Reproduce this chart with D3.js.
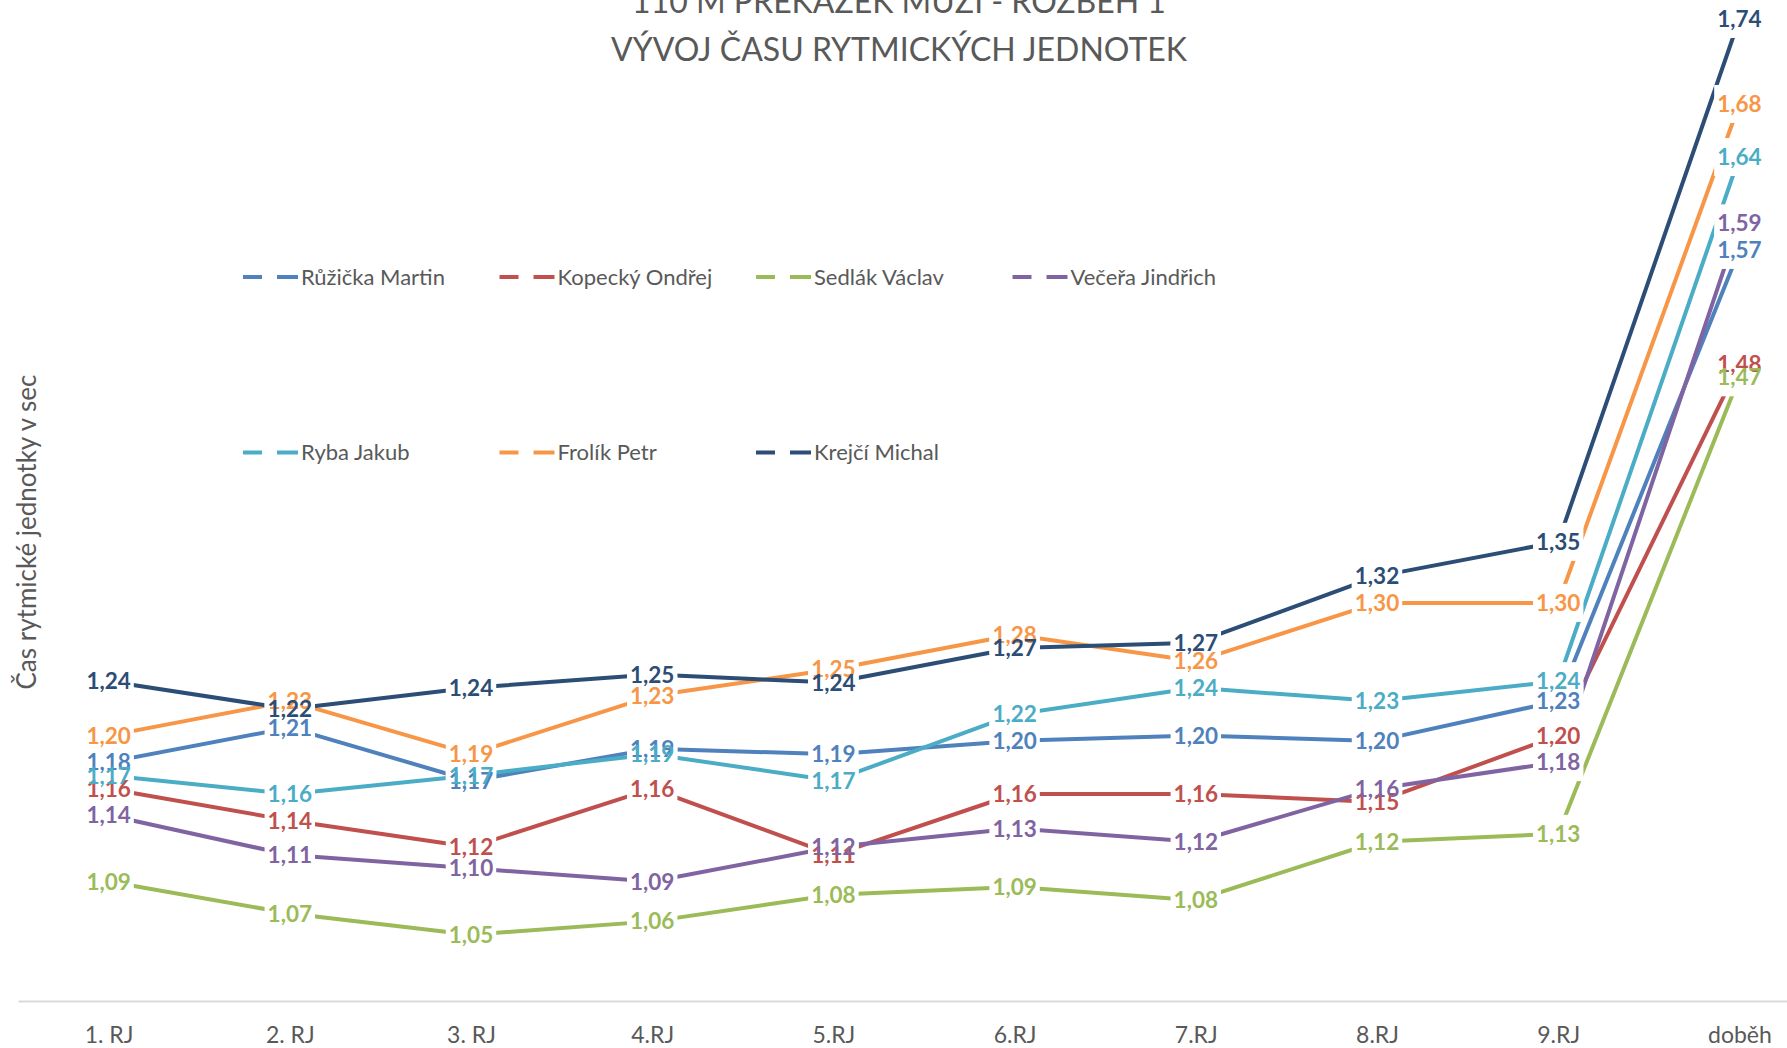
<!DOCTYPE html>
<html>
<head>
<meta charset="utf-8">
<script src="https://cdnjs.cloudflare.com/ajax/libs/d3/7.8.5/d3.min.js"></script>
<style>
    body { margin: 0; background: #fff; }
    text { font-family: Lato, 'Open Sans', sans-serif; }
</style>
</head>
<body>
<div id="chart-holder"></div>
<script>
// categories (x axis)
var categories = ['1. RJ', '2. RJ', '3. RJ', '4.RJ', '5.RJ', '6.RJ', '7.RJ', '8.RJ', '9.RJ', 'doběh'];

// series names
var seriesNames = ['Růžička Martin', 'Kopecký Ondřej', 'Sedlák Václav', 'Večeřa Jindřich', 'Ryba Jakub', 'Frolík Petr', 'Krejčí Michal'];

// times per rhythmic unit (sec)
var ruzicka = [1.18, 1.206, 1.166, 1.19, 1.186, 1.196, 1.20, 1.196, 1.226, 1.566];
var kopecky = [1.16, 1.136, 1.116, 1.16, 1.11, 1.156, 1.156, 1.15, 1.20, 1.48];
var sedlak  = [1.09, 1.066, 1.05, 1.06, 1.08, 1.086, 1.076, 1.12, 1.126, 1.47];
var vecera  = [1.14, 1.11, 1.10, 1.09, 1.116, 1.13, 1.12, 1.16, 1.18, 1.586];
var ryba    = [1.17, 1.156, 1.17, 1.186, 1.166, 1.216, 1.236, 1.226, 1.241, 1.636];
var frolik  = [1.20, 1.226, 1.186, 1.23, 1.25, 1.276, 1.256, 1.30, 1.30, 1.676];
var krejci  = [1.241, 1.22, 1.236, 1.246, 1.24, 1.266, 1.27, 1.32, 1.346, 1.74];

var seriesValues = [ruzicka, kopecky, sedlak, vecera, ryba, frolik, krejci];
var colors = ['#4F81BD', '#C0504D', '#9BBB59', '#8064A2', '#4BACC6', '#F79646', '#2C4D75'];

function buildChart(containerId) {
    // size globals
    var width = 1787;
    var height = 1048;

    var svg = d3
        .select(containerId)
        .append('svg')
        .attr('width', width)
        .attr('height', height)
        .style('display', 'block');

    svg.append('rect')
        .attr('width', width)
        .attr('height', height)
        .attr('fill', '#fff');

    // plot area runs past the right and top edge (cropped picture)
    var x = d3
        .scalePoint()
        .domain(categories)
        .range([18, 1830])
        .padding(0.5);

    var y = d3
        .scaleLinear()
        .domain([1.0, 1.8])
        .range([1001, -60.6]);

    var series = seriesNames.map(function(name, i) {
        return {
            name: name,
            color: colors[i],
            values: seriesValues[i].map(function(v, j) {
                return { cat: categories[j], value: v };
            })
        };
    });

    // x axis
    var xAxis = d3.axisBottom(x).tickSize(0).tickSizeOuter(0).tickPadding(26);

    var axisG = svg
        .append('g')
        .attr('class', 'x-axis')
        .attr('transform', 'translate(0,' + y(1.0) + ')')
        .call(xAxis);

    axisG.select('.domain')
        .attr('stroke', '#D9D9D9')
        .attr('stroke-width', 2);

    axisG.selectAll('text')
        .attr('fill', '#595959')
        .style('font-size', '23px')
        .style('font-family', 'Lato, sans-serif');

    // lines
    var line = d3
        .line()
        .x(function(d) { return x(d.cat); })
        .y(function(d) { return y(d.value); });

    var linesG = svg.append('g').attr('class', 'lines');

    linesG
        .selectAll('.series-line')
        .data(series)
        .enter()
        .append('path')
        .attr('class', 'series-line')
        .attr('d', function(d) { return line(d.values); })
        .attr('fill', 'none')
        .attr('stroke', function(d) { return d.color; })
        .attr('stroke-width', 4)
        .attr('stroke-linejoin', 'round');

    // data labels: white boxes knock out the lines, text drawn on top
    var boxesG = svg.append('g').attr('class', 'label-boxes');
    var labelsG = svg.append('g').attr('class', 'labels');

    var fmt = d3.format('.2f');

    series.forEach(function(s) {
        s.values.forEach(function(d) {
            var t = labelsG
                .append('text')
                .attr('x', x(d.cat))
                .attr('y', y(d.value))
                .attr('dy', '0.36em')
                .attr('text-anchor', 'middle')
                .attr('fill', s.color)
                .style('font-size', '22.5px')
                .style('font-weight', 'bold')
                .text(fmt(d.value).replace('.', ','));

            var w = t.node().getComputedTextLength();

            boxesG
                .append('rect')
                .attr('x', x(d.cat) - w / 2 - 3)
                .attr('y', y(d.value) - 19)
                .attr('width', w + 6)
                .attr('height', 38)
                .attr('fill', '#fff');
        });
    });

    // legend
    var legendG = svg.append('g').attr('class', 'legend');
    var legendCols = [243, 499.5, 756, 1012.5];
    var legendRows = [277, 452.5];

    series.forEach(function(s, i) {
        var lx = legendCols[i % 4];
        var ly = legendRows[Math.floor(i / 4)];
        var item = legendG.append('g').attr('transform', 'translate(' + lx + ',' + ly + ')');

        item.append('line')
            .attr('x1', 0).attr('x2', 19)
            .attr('y1', 0).attr('y2', 0)
            .attr('stroke', s.color)
            .attr('stroke-width', 4);

        item.append('line')
            .attr('x1', 34).attr('x2', 55)
            .attr('y1', 0).attr('y2', 0)
            .attr('stroke', s.color)
            .attr('stroke-width', 4);

        item.append('text')
            .attr('x', 58)
            .attr('y', 0)
            .attr('dy', '0.35em')
            .attr('fill', '#595959')
            .style('font-size', '22px')
            .text(s.name);
    });

    // axis title
    svg
        .append('text')
        .attr('class', 'y-axis-label')
        .attr('transform', 'translate(27,532) rotate(-90)')
        .attr('text-anchor', 'middle')
        .attr('dy', '0.35em')
        .attr('fill', '#595959')
        .style('font-size', '26px')
        .text('Čas rytmické jednotky v sec');

    // title (first line is cut off at the top edge)
    svg
        .append('text')
        .attr('class', 'title')
        .attr('x', 899)
        .attr('y', 13)
        .attr('text-anchor', 'middle')
        .attr('fill', '#595959')
        .style('font-size', '32px')
        .text('110 M PŘEKÁŽEK MUŽI - ROZBĚH 1');

    svg
        .append('text')
        .attr('class', 'title')
        .attr('x', 899)
        .attr('y', 61)
        .attr('text-anchor', 'middle')
        .attr('fill', '#595959')
        .style('font-size', '32px')
        .text('VÝVOJ ČASU RYTMICKÝCH JEDNOTEK');
}

buildChart('#chart-holder');
</script>
</body>
</html>
